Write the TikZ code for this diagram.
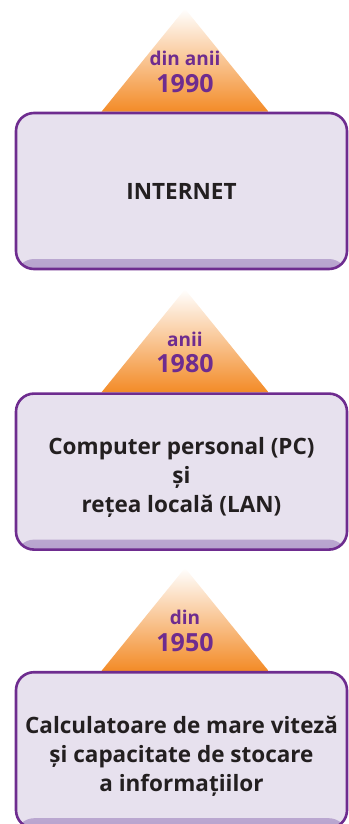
\documentclass[tikz,border=0pt]{standalone}
\usepackage{fontspec}
\setmainfont{Open Sans}
\usetikzlibrary{positioning, calc, backgrounds}
\definecolor{tlPurple}{HTML}{6E2C8F}
\definecolor{tlLilac}{HTML}{E7E1EE}
\definecolor{tlBand}{HTML}{B7A3CE}
\definecolor{tlOrange}{HTML}{F38B27}
\definecolor{tlInk}{HTML}{231F20}
\newcommand\eraPad{\rule{0pt}{29pt}}
\tikzset{
    eraBox/.style={
        rectangle,
        draw=tlPurple,
        line width=2.6pt,
        rounded corners=18pt,
        fill=tlLilac,
        minimum width=331pt,
        minimum height=156pt,
        align=center,
        text=tlInk,
        font=\bfseries\fontsize{22.5}{29}\selectfont,
        path picture={
            \shade[top color=tlLilac, bottom color=tlBand]
                (path picture bounding box.south west) rectangle
                ($(path picture bounding box.south east)+(0pt,10pt)$);
        }
    },
    % labels in the peaks
    yearLbl/.style={inner sep=0pt, text=tlPurple, font=\bfseries\fontsize{25}{27}\selectfont},
    sinceLbl/.style={inner sep=0pt, text=tlPurple, font=\bfseries\fontsize{19}{21}\selectfont},
    peak/.style={top color=white, bottom color=tlOrange}
}

\begin{document}
\begin{tikzpicture}[x=1pt, y=1pt, node distance=122pt]
\useasboundingbox (0,0) rectangle (348,-824);

\node[eraBox] (inet) at (181.5,-191) {INTERNET};
\node[eraBox, below=of inet] (pclan) {\eraPad Computer personal (PC)\\și\\rețea locală (LAN)};
\node[eraBox, below=120pt of pclan] (mainframe) {\eraPad Calculatoare de mare viteză\\și capacitate de stocare\\a informațiilor};

\node[yearLbl, above=19pt of inet.north, xshift=3.5pt] (y1990) {1990};
\node[sinceLbl, above=8pt of y1990] (s1990) {din anii};
\node[yearLbl, above=19pt of pclan.north, xshift=3.5pt] (y1980) {1980};
\node[sinceLbl, above=8pt of y1980] (s1980) {anii};
\node[yearLbl, above=19pt of mainframe.north, xshift=3.5pt] (y1950) {1950};
\node[sinceLbl, above=8pt of y1950] (s1950) {din};

\begin{scope}[on background layer]
\foreach \era in {inet, pclan, mainframe}
    \shade[peak] ($(\era.north)+(-80pt,0pt)$) -- ($(\era.north)+(3.5pt,103pt)$)
        -- ($(\era.north)+(87pt,0pt)$) -- cycle;
\end{scope}
\end{tikzpicture}
\end{document}
